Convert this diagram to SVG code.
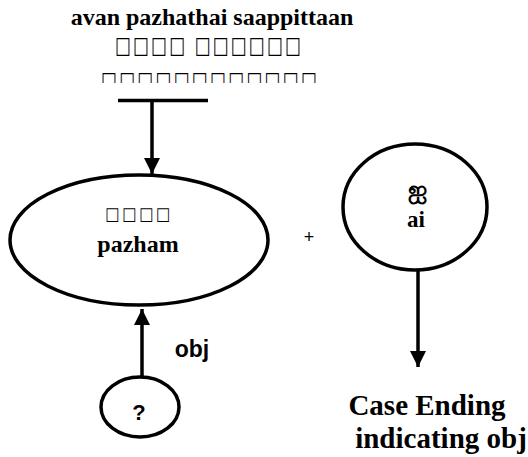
<svg xmlns="http://www.w3.org/2000/svg" width="528" height="457" viewBox="0 0 528 457">
  <style>
    .serif { font-family: "Liberation Serif", "Times New Roman", serif; font-weight: bold; fill: #000; }
    .box { font-family: "DejaVu Sans", sans-serif; fill: #000; opacity: 0.99; }
    .sans { font-family: "Liberation Sans", Arial, sans-serif; font-weight: bold; fill: #000; }
    .node { fill: #fff; stroke: #000; stroke-width: 3.5; }
    .edge { stroke: #000; stroke-width: 3.5; fill: none; }
  </style>
  <defs>
    <marker id="arrow" viewBox="0 0 16 16" markerWidth="16" markerHeight="16" refX="16" refY="8" orient="auto" markerUnits="userSpaceOnUse">
      <path d="M0,0 L16,8 L0,16 Z" fill="#000"/>
    </marker>
    <clipPath id="clip-line3">
      <rect x="0" y="0" width="528" height="83"/>
    </clipPath>
  </defs>

  <!-- sentence -->
  <g id="sentence">
    <text class="serif" x="212" y="25" font-size="24" text-anchor="middle">avan pazhathai saappittaan</text>
    <text class="box" transform="translate(115,53) scale(1,1.35)" x="0" y="0" font-size="17" textLength="186" lengthAdjust="spacing">□□□□ □□□□□□</text>
    <g clip-path="url(#clip-line3)">
      <text class="box" transform="translate(101,88) scale(1,1.35)" x="0" y="0" font-size="17" textLength="216" lengthAdjust="spacing">□□□□□□□□□□□□</text>
    </g>
  </g>

  <!-- connectors -->
  <g id="connectors">
    <line class="edge" x1="118" y1="100.5" x2="208" y2="100.5"/>
    <line class="edge" x1="152" y1="100" x2="152" y2="174" marker-end="url(#arrow)"/>
    <line class="edge" x1="142" y1="377" x2="142" y2="309" marker-end="url(#arrow)"/>
    <line class="edge" x1="418" y1="270" x2="418" y2="367" marker-end="url(#arrow)"/>
  </g>

  <!-- root word -->
  <g id="root">
    <ellipse class="node" cx="139" cy="240" rx="129" ry="65"/>
    <text class="box" transform="translate(105,220) scale(1,1.2)" x="0" y="0" font-size="15" textLength="65" lengthAdjust="spacing">□□□□</text>
    <text class="serif" x="138" y="252" font-size="24" text-anchor="middle">pazham</text>
  </g>

  <!-- plus sign -->
  <text font-family="Liberation Sans, sans-serif" x="309" y="243" font-size="18" text-anchor="middle" fill="#000" opacity="0.99">+</text>

  <!-- case suffix -->
  <g id="suffix">
    <ellipse class="node" cx="415" cy="207" rx="72" ry="63"/>
    <text class="serif" x="417" y="198" font-size="24" text-anchor="middle">ஐ</text>
    <text class="serif" x="416" y="227" font-size="23" text-anchor="middle">ai</text>
  </g>

  <!-- unknown object -->
  <g id="object">
    <ellipse class="node" cx="140" cy="407" rx="39" ry="30"/>
    <text class="sans" x="139" y="420" font-size="22" text-anchor="middle">?</text>
  </g>

  <text class="sans" x="192" y="357" font-size="23" text-anchor="middle">obj</text>

  <!-- result label -->
  <g id="case-ending">
    <text class="serif" x="427" y="415" font-size="29" text-anchor="middle">Case Ending</text>
    <text class="serif" x="441" y="448" font-size="29" text-anchor="middle">indicating obj</text>
  </g>
</svg>
